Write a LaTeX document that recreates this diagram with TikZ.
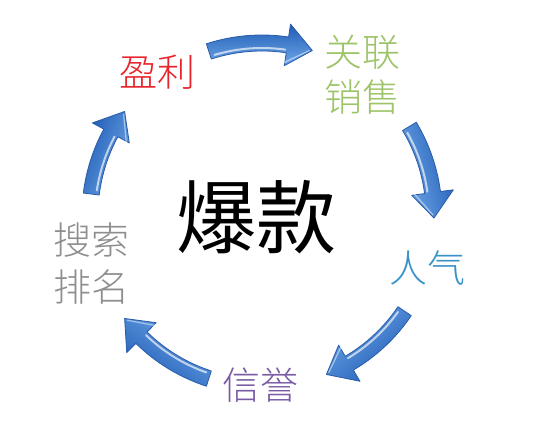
\documentclass[tikz,border=0pt]{standalone}
\usepackage{fontspec}
\newfontfamily\cjk{Noto Sans CJK SC Light}
\newfontfamily\cjkreg{Noto Sans CJK SC}
\definecolor{arrowlight}{HTML}{6FA8E8}
\definecolor{arrowdark}{HTML}{1F5BB5}
\definecolor{arrowedge}{HTML}{2A5CA8}
\definecolor{profitred}{HTML}{E8232B}
\definecolor{salegreen}{HTML}{9DC468}
\definecolor{popblue}{HTML}{3A93C8}
\definecolor{trustpurple}{HTML}{7A5CA5}
\definecolor{rankgray}{HTML}{8E8E8E}
\newcommand\bluearrow[2]{%
  \pgfmathsetmacro\arrhead{#2+8.5}%
  \pgfmathsetmacro\arrmid{(#1+#2)/2+90}%
  \begin{scope}[shift={(262,220)}]
    \shade[top color=arrowlight, bottom color=arrowdark, shading angle=\arrmid,
           draw=arrowedge, line width=0.8pt, line join=round]
      (#1:180) arc[start angle=#1, end angle=\arrhead, radius=180]
      -- (\arrhead:193) -- (#2:172) -- (\arrhead:151) -- (\arrhead:164)
      arc[start angle=\arrhead, end angle=#1, radius=164] -- cycle;
    \draw[white, opacity=.65, line width=2pt, line cap=round]
      ({#1-1.5}:167) arc[start angle={#1-1.5}, end angle={\arrhead+0.5}, radius=167];
    \draw[white, opacity=.5, line width=1.2pt, line cap=round, line join=round]
      ({\arrhead+0.3}:154) -- ({#2+1}:171);
  \end{scope}}
\tikzset{
  label38/.style={font=\cjk\fontsize{38}{38}\selectfont, inner sep=0pt},
}
\begin{document}
\begin{tikzpicture}[x=1pt,y=1pt]
\useasboundingbox (0,0) rectangle (550,435);
\fill[white] (0,0) rectangle (550,435);
\bluearrow{108}{73}
\bluearrow{31}{-1}
\bluearrow{-34}{-68}
\bluearrow{-108}{-143}
\bluearrow{173}{143}
\node[label38, text=profitred] (profit) at (157,363) {盈利};
\node[label38, text=salegreen] (sale1) at (362,383) {关联};
\node[label38, text=salegreen] (sale2) at (362,338) {销售};
\node[label38, text=popblue] (pop) at (427,167) {人气};
\node[label38, text=trustpurple] (trust) at (260,50) {信誉};
\node[label38, text=rankgray] (rank1) at (91,195) {搜索};
\node[label38, text=rankgray] (rank2) at (91,148) {排名};
\node[font=\cjkreg\fontsize{80}{80}\selectfont, inner sep=0pt] (hot) at (256,218) {爆款};
\end{tikzpicture}
\end{document}
